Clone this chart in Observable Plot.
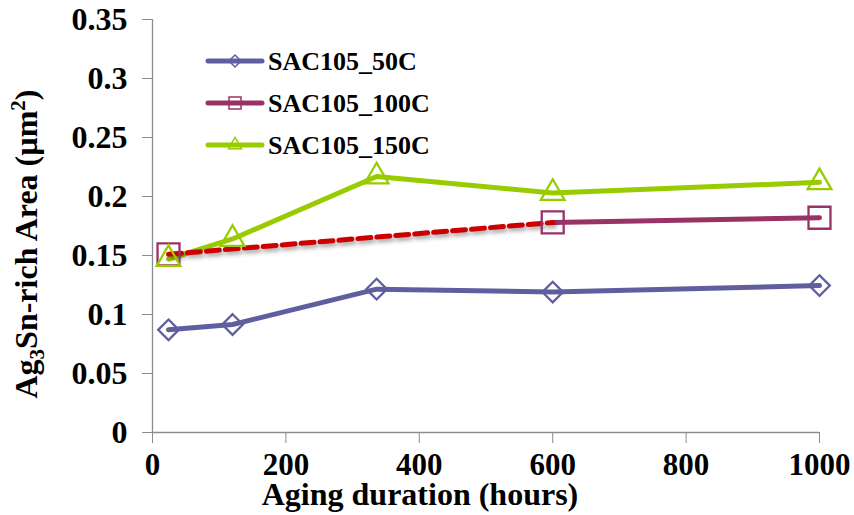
<!DOCTYPE html>
<html><head><meta charset="utf-8">
<script src="https://cdn.jsdelivr.net/npm/d3@7"></script>
<script src="https://cdn.jsdelivr.net/npm/@observablehq/plot@0.6"></script>
<style>
body{margin:0;background:#fff;}
#chart svg{display:block;}
</style>
</head><body><div id="chart"></div>
<script>
// ---- data ----
const hours50 = [24, 120, 336, 600, 1000];
const area50 = [0.087, 0.0915, 0.1215, 0.119, 0.1245];
const hours100 = [24, 600, 1000];
const area100 = [0.151, 0.178, 0.182];
const hours150 = [24, 120, 336, 600, 1000];
const area150 = [0.147, 0.164, 0.217, 0.203, 0.212];
const xTicks = [0, 200, 400, 600, 800, 1000];
const yTicks = [0, 0.05, 0.1, 0.15, 0.2, 0.25, 0.3, 0.35];
const seriesNames = ["SAC105_50C", "SAC105_100C", "SAC105_150C"];
const seriesColors = ["#5f5f9f", "#993366", "#99cc00"];
const dashColor = "#cc0000";
const xTitle = "Aging duration (hours)";

const toRows = (xs, ys) => xs.map((x, i) => ({x, y: ys[i]}));
const s50 = toRows(hours50, area50);
const s100 = toRows(hours100, area100);
const s150 = toRows(hours150, area150);
const s100dash = s100.slice(0, 2);
const s100solid = s100.slice(1);

const axisGray = "#8c8c8c";
const font = "'Liberation Serif', 'Times New Roman', serif";

const plot = Plot.plot({
  width: 854, height: 515,
  marginLeft: 152, marginRight: 35, marginTop: 19, marginBottom: 83,
  style: {fontFamily: font, fontSize: "32px", fontWeight: "bold", color: "#000", background: "#fff", overflow: "visible"},
  x: {domain: [0, 1000]},
  y: {domain: [0, 0.35]},
  marks: [
    Plot.axisY({ticks: yTicks, tickSize: 10, tickPadding: 15, stroke: axisGray, strokeOpacity: 1, tickFormat: d3.format("~g"), label: null, fill: "#000"}),
    Plot.axisX({ticks: xTicks, tickSize: 11, tickPadding: 9, fontSize: 31, stroke: axisGray, strokeOpacity: 1, tickFormat: d3.format("d"), label: null, fill: "#000"}),
    Plot.ruleX([0], {stroke: axisGray, strokeWidth: 1.3}),
    Plot.ruleY([0], {stroke: axisGray, strokeWidth: 1.3}),
    Plot.line(s50, {x: "x", y: "y", stroke: seriesColors[0], strokeWidth: 5}),
    Plot.line(s150, {x: "x", y: "y", stroke: seriesColors[2], strokeWidth: 5}),
    Plot.line(s100solid, {x: "x", y: "y", stroke: seriesColors[1], strokeWidth: 5}),
    Plot.line(s100dash, {x: "x", y: "y", stroke: dashColor, strokeWidth: 5, strokeDasharray: "13,6"}),
    Plot.dot(s50, {x: "x", y: "y", symbol: "diamond2", r: 9.3, stroke: seriesColors[0], strokeWidth: 2.3, fill: "none"}),
    Plot.dot(s100, {x: "x", y: "y", symbol: "square", r: 12.4, stroke: seriesColors[1], strokeWidth: 2.3, fill: "none"}),
    Plot.dot(s150, {x: "x", y: "y", symbol: "triangle", r: 8.8, stroke: seriesColors[2], strokeWidth: 2.3, fill: "none"})
  ]
});

const svg = d3.select(plot);
svg.selectAll("g[stroke-dasharray]").style("filter", "drop-shadow(2px 3px 2px rgba(0,0,0,0.35))");

// axis titles
svg.append("text")
  .attr("x", 420).attr("y", 505)
  .attr("text-anchor", "middle")
  .attr("font-size", 32).attr("font-weight", "bold").attr("fill", "#000")
  .text(xTitle);

const yt = svg.append("text")
  .attr("transform", "translate(37,244) rotate(-90)")
  .attr("text-anchor", "middle")
  .attr("font-size", 32).attr("font-weight", "bold").attr("fill", "#000");
yt.append("tspan").text("Ag");
yt.append("tspan").attr("font-size", 21).attr("dy", 7).text("3");
yt.append("tspan").attr("dy", -7).text("Sn-rich Area (\u00b5m");
yt.append("tspan").attr("font-size", 21).attr("dy", -12).text("2");
yt.append("tspan").attr("dy", 12).text(")");

// legend
const legendSymbols = [d3.symbolDiamond2, d3.symbolSquare, d3.symbolTriangle];
const legendSizes = [90, 144, 75];
const rowsY = [61, 103, 145];
const lg = svg.append("g").attr("text-anchor", "start");
seriesNames.forEach((name, i) => {
  const g = lg.append("g").attr("transform", `translate(0,${rowsY[i]})`);
  g.append("line").attr("x1", 208).attr("x2", 262).attr("y1", 0).attr("y2", 0)
    .attr("stroke", seriesColors[i]).attr("stroke-width", 5).attr("stroke-linecap", "round");
  g.append("path").attr("d", d3.symbol(legendSymbols[i], legendSizes[i])())
    .attr("transform", "translate(235,0)")
    .attr("fill", "none").attr("stroke", seriesColors[i]).attr("stroke-width", 1.5);
  g.append("text").attr("x", 268).attr("y", 9).attr("text-anchor", "start")
    .attr("font-size", 26).attr("font-weight", "bold").attr("fill", "#000")
    .text(name);
});

document.getElementById("chart").appendChild(plot);
</script>
</body></html>
